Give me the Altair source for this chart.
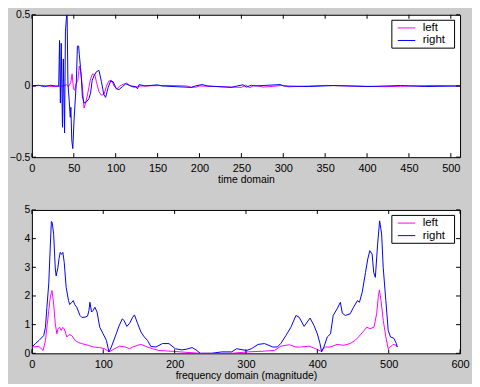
import altair as alt
import pandas as pd

# ---------------- data ----------------
series_names = ["left", "right"]
series_colors = ["#ff00ff", "#0000ff"]

# time domain (sample index vs amplitude)
t_left = [0, 12, 25, 38, 41, 43.6, 46.4, 48, 49.6, 51, 53, 54.9, 56.6, 58.2, 60.2, 62.2, 64.1, 66.1, 68, 70,
          72.4, 75, 77, 80, 83, 86, 89, 92, 95, 98, 101.5, 105, 110, 113, 118, 122, 130, 160, 185, 190,
          196, 200, 250, 255, 260, 265, 270, 276, 300, 306, 350, 420, 480, 511]
v_left = [0, 0.004, -0.004, 0, 0.01, -0.005, 0.024, 0.085, -0.02, -0.03, 0.02, 0.04, 0.14, 0.10, 0, -0.155, -0.12, -0.07, -0.01, 0.05,
          0.085, 0.08, 0.03, -0.04, -0.065, -0.06, 0, 0.035, 0.04, 0, -0.02, 0, 0.015, 0.02, 0, -0.01, 0, 0.004, 0, -0.01,
          -0.008, 0, -0.01, 0.006, -0.012, 0.004, 0, -0.008, 0.004, -0.006, 0.004, -0.005, 0.004, 0]

t_right = [0, 8, 15, 22, 28, 32, 33, 34, 35, 36.5, 37.5, 39, 40, 41.5, 42, 43, 44.5, 45.8, 46.5, 47.6,
           48.8, 50.3, 51.5, 53, 54.3, 55.8, 56.6, 58, 59, 60.2, 62.2, 65.3, 68, 70, 72, 74, 77, 80, 83, 85.8,
           88, 91, 94, 97, 100.7, 104, 108, 112, 118, 124, 126, 128, 135, 150, 155, 190, 195, 203, 210, 238,
           245, 252, 256, 262, 266, 297, 300, 330, 360, 400, 440, 470, 511]
v_right = [0, 0.005, -0.005, 0.005, 0, 0, 0.32, -0.12, 0.30, -0.29, 0.19, -0.33, 0.38, 0.5, 0.5, 0.02, -0.10, -0.22, -0.15, -0.38,
           -0.44, -0.24, -0.12, 0.02, 0.28, 0.28, 0.22, 0.13, 0.06, -0.07, -0.12, -0.11, -0.09, -0.05, 0.04, 0.07, 0.10, 0.11, 0.03, -0.06,
           -0.08, -0.01, 0.035, 0.03, -0.02, -0.025, -0.005, 0.015, 0, -0.005, -0.02, 0.01, 0, 0.008, 0, -0.01, 0, 0.01, 0, -0.01,
           0, 0.008, -0.008, 0.005, 0, 0.01, 0, -0.004, 0.003, -0.004, 0.003, -0.004, 0]

# frequency domain (bin vs magnitude)
f_left = [0, 9.7, 15.7, 19, 21.5, 23.6, 26, 28.2, 30.5, 32.8, 35, 36.5, 38.8, 41, 43, 45.3, 49, 52, 55.9, 60.5,
          65, 69.7, 79, 86, 95, 102, 108, 113.6, 122.8, 131, 137, 141.3, 148, 153, 162, 169, 178, 197, 208, 236,
          280, 303, 321, 340, 349, 360.7, 370, 377, 388.4, 397.7, 404.6, 411.5, 418, 427.7, 437, 446, 453, 457.7, 463.7, 469.3,
          473.9, 479.4, 483.1, 485.4, 487, 489.2, 492.4, 496, 499.3, 502.5, 506, 510.8, 512]
m_left = [0.22, 0.24, 0.1, 0.45, 1.0, 1.49, 2.0, 2.19, 1.72, 1.03, 0.68, 0.85, 0.91, 0.8, 0.9, 0.86, 0.57, 0.65, 0.62, 0.45,
          0.38, 0.34, 0.28, 0.22, 0.2, 0.16, 0.05, 0.13, 0.25, 0.22, 0.16, 0.22, 0.28, 0.31, 0.22, 0.16, 0.1, 0.07, 0.05, 0.0,
          0.0, 0.05, 0.07, 0.1, 0.25, 0.3, 0.22, 0.22, 0.25, 0.16, 0.08, 0.22, 0.22, 0.31, 0.28, 0.34, 0.45, 0.57, 0.74, 0.91,
          0.86, 0.91, 1.38, 1.95, 2.21, 1.84, 1.15, 0.57, 0.16, 0.22, 0.31, 0.28, 0.22]

f_right = [0, 5, 10, 16.6, 19, 21, 23.6, 25.9, 27.3, 28.5, 30.5, 32.8, 34, 36.5, 38, 39.7, 41.5, 43.4, 45.3, 48,
           51.3, 53, 55.9, 58, 60, 62.8, 67.4, 70, 74.4, 78, 80, 81.3, 83.6, 86, 88.2, 91.3, 95.1, 99.8, 104.4, 108,
           111.3, 118.2, 122, 126.6, 129, 133, 137, 141.3, 143.7, 148.3, 152.9, 157.5, 162, 166.7, 173.7, 182.9, 192, 201, 210, 216,
           224.5, 230, 236, 252, 266, 280, 286.8, 300.7, 307.6, 316.9, 326, 337.7, 344, 349, 356, 363, 370, 374.5, 381.5, 389.8,
           395.3, 400, 403.7, 406, 409.2, 413.9, 418.5, 422.2, 427.7, 432.3, 435, 439.2, 446, 450.8, 456.3, 459, 462.9, 467.5, 470.7, 473.5,
           476.8, 479, 481.3, 484.5, 487.3, 490.1, 492.3, 496, 499.3, 502.5, 507, 510.8, 512]
m_right = [0.22, 0.34, 0.45, 0.62, 0.91, 1.6, 2.42, 3.81, 4.6, 4.55, 4.15, 2.94, 2.7, 3.0, 3.3, 3.52, 3.45, 3.52, 3.17, 2.3,
           1.84, 1.7, 1.78, 1.84, 1.7, 1.61, 1.32, 1.25, 1.26, 1.3, 1.5, 1.78, 1.44, 1.5, 1.61, 1.44, 0.91, 0.68, 0.45, 0.05,
           0.22, 0.68, 0.95, 1.2, 1.15, 0.94, 1.05, 1.26, 1.34, 1.03, 0.74, 0.57, 0.45, 0.24, 0.22, 0.34, 0.34, 0.16, 0.12, 0.14,
           0.2, 0.12, 0.0, 0.0, 0.05, 0.05, 0.16, 0.1, 0.16, 0.31, 0.34, 0.22, 0.22, 0.35, 0.62, 0.91, 1.32, 1.26, 0.94, 1.23,
           0.97, 0.68, 0.34, 0.05, 0.22, 0.57, 0.68, 1.32, 1.55, 1.78, 1.4, 1.32, 1.38, 1.61, 1.84, 1.78, 2.13, 2.82, 3.29, 3.58,
           3.46, 2.82, 2.65, 3.81, 4.62, 4.16, 3.0, 1.84, 0.8, 0.57, 0.53, 0.34, 0.22]

time_xticks = [0, 50, 100, 150, 200, 250, 300, 350, 400, 450, 500]
time_yticks = [-0.5, 0, 0.5]
freq_xticks = [0, 100, 200, 300, 400, 500, 600]
freq_yticks = [0, 1, 2, 3, 4, 5]
time_title = "time domain"
freq_title = "frequency domain (magnitude)"

# ---------------- layout ----------------
W = 430
H1 = 143
H2 = 144
TICK = 4


def series_frame(xl, yl, xr, yr):
    a = pd.DataFrame({"x": xl, "y": yl, "series": series_names[0]})
    b = pd.DataFrame({"x": xr, "y": yr, "series": series_names[1]})
    return pd.concat([a, b], ignore_index=True)


def panel(df, xdom, ydom, xticks, yticks, xtitle, xfmt, yfmt, H):
    xs = alt.Scale(domain=xdom, nice=False, zero=False)
    ys = alt.Scale(domain=ydom, nice=False, zero=False)
    xax = alt.Axis(values=xticks, format=xfmt, title=xtitle, labelPadding=5,
                   titlePadding=1, labelFlush=False, labelOverlap=False)
    yax = alt.Axis(values=yticks, format=yfmt, title=None, labelPadding=2,
                   labelFontSize=10.5, labelOverlap=False)
    X = alt.X("x:Q", scale=xs, axis=xax)
    Y = alt.Y("y:Q", scale=ys, axis=yax)
    lines = alt.Chart(df).mark_line(strokeWidth=1, clip=True).encode(
        x=X, y=Y,
        color=alt.Color("series:N", scale=alt.Scale(domain=series_names, range=series_colors), legend=None),
    )
    xt = pd.DataFrame({"x": xticks})
    yt = pd.DataFrame({"y": yticks})
    top_t = alt.Chart(xt).mark_rule(color="black", strokeWidth=1).encode(
        x=X, y=alt.value(0), y2=alt.value(TICK))
    bot_t = alt.Chart(xt).mark_rule(color="black", strokeWidth=1).encode(
        x=X, y=alt.value(H), y2=alt.value(H - TICK))
    left_t = alt.Chart(yt).mark_rule(color="black", strokeWidth=1).encode(
        y=Y, x=alt.value(0), x2=alt.value(TICK))
    right_t = alt.Chart(yt).mark_rule(color="black", strokeWidth=1).encode(
        y=Y, x=alt.value(W), x2=alt.value(W - TICK))

    one = pd.DataFrame({"a": [0]})
    box = alt.Chart(one).mark_rect(fill="white", stroke="black", strokeWidth=1).encode(
        x=alt.value(W - 68.5), x2=alt.value(W - 5.5), y=alt.value(5.5), y2=alt.value(33.5))
    legend_layers = [box]
    for i, (name, col) in enumerate(zip(series_names, series_colors)):
        yy = 13.2 + i * 12.6
        legend_layers.append(alt.Chart(one).mark_rule(color=col, strokeWidth=1).encode(
            x=alt.value(W - 62.5), x2=alt.value(W - 45), y=alt.value(yy)))
        legend_layers.append(alt.Chart(one).mark_text(align="left", baseline="middle", fontSize=11.5,
                                                      font="Liberation Sans", color="black").encode(
            x=alt.value(W - 37.5), y=alt.value(yy), text=alt.value(name)))

    return alt.layer(lines, top_t, bot_t, left_t, right_t, *legend_layers).properties(width=W, height=H)


top = panel(series_frame(t_left, v_left, t_right, v_right), [0, 511], [-0.5, 0.5],
            time_xticks, time_yticks, time_title, "d", ".1~f", H1)
bottom = panel(series_frame(f_left, m_left, f_right, m_right), [0, 600], [0, 5],
               freq_xticks, freq_yticks, freq_title, "d", "d", H2)

chart = alt.vconcat(top, bottom, spacing=53, bounds="flush").properties(
    padding={"left": 0, "top": 0, "right": 2, "bottom": 2},
    background="#cccccc",
).configure_view(
    stroke="black", strokeWidth=1, fill="white"
).configure_axis(
    domain=False, ticks=False, grid=False,
    labelFont="Liberation Sans", labelFontSize=11, labelColor="black",
    titleFont="Liberation Sans", titleFontSize=10.5, titleFontWeight="normal", titleColor="black",
)

chart.save("out.html", embed_options={"renderer": "svg", "actions": False})
